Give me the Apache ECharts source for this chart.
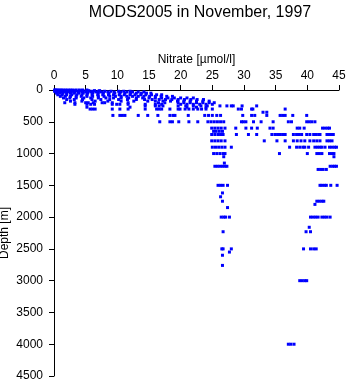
<!DOCTYPE html>
<html>
<head>
<meta charset="utf-8">
<script src="https://cdn.jsdelivr.net/npm/echarts@6/dist/echarts.min.js"></script>
<style>
html,body{margin:0;padding:0;background:#fff;}
#chart{width:348px;height:384px;}
</style>
</head>
<body>
<div id="chart"></div>
<script>
// Nitrate ticks and depth ticks
const nitrateTicks = [0, 5, 10, 15, 20, 25, 30, 35, 40, 45];
const depthTicks = [0, 500, 1000, 1500, 2000, 2500, 3000, 3500, 4000, 4500];

// [depth (m), [nitrate values (µmol/l)]]
const surfaceLayer = [
  [0,   [0.1,0.3,0.5,0.8,1.1,1.4,1.8,2.2,2.6,3.0,3.5,4.0,4.5,5.2]],
  [10,  [0.2,0.6,1.0,1.4,1.9,2.4,2.9,3.4,4.0,4.6,5.5,6.4,7.2]],
  [20,  [0.1,0.5,0.9,1.3,1.7,2.2,2.8,3.3,3.9,4.5,5.1,6.0,7.0,8.0,9.0,10.2,11.0,12.0]],
  [30,  [0.3,0.7,1.2,1.6,2.1,2.7,3.2,3.8,4.4,5.0,5.8,6.6,7.5,8.5,9.5,10.5,11.5,12.4,13.3,14.2]],
  [50,  [0.4,0.9,1.4,2.0,2.6,3.2,3.9,4.6,5.3,6.1,7.0,7.8,8.7,9.6,10.4,11.2,12.1,13.0,13.8,14.6,15.3]],
  [75,  [0.6,1.3,2.0,2.8,3.6,4.4,5.2,6.0,6.9,7.7,8.6,9.4,10.3,11.1,12.0,12.8,13.7,14.5,15.4,16.2,17.0]],
  [100, [1.0,1.8,2.6,3.5,4.3,5.2,6.1,7.0,7.9,8.8,9.7,10.6,11.5,12.4,13.3,14.2,15.1,16.0,16.9,17.8,18.7]],
  [125, [1.5,2.5,3.5,4.7,5.8,7.0,8.2,9.4,10.6,11.8,13.0,14.0,15.0,16.0,17.0,18.0,19.0,20.0,21.0,22.0]],
  [150, [2.0,3.2,4.5,6.0,7.4,8.8,10.2,11.6,13.0,14.3,15.5,16.6,17.6,18.6,19.6,20.6,21.6,22.6,23.6]],
  [175, [2.6,4.4,6.5,8.5,10.6,12.6,14.8,16.0,17.2,18.4,19.5,20.5,21.5,22.5,23.5,24.5]],
  [200, [1.7,3.3,5.0,5.4,6.2,7.6,8.0,9.2,11.7,16.5,17.5,19.6,20.5,21.5,22.5,23.5,24.5,25.3]],
  [225, [3.3,5.2,5.8,6.4,9.2,9.9,10.4,11.7,14.4,16.0,17.0,20.0,21.0,22.0,23.0,24.0,25.0]],
  [250, [14.4,16.0,16.6,17.2,19.6,20.8,22.0,23.2,24.2,26.2,27.3,28.0,28.3,29.7,32.0]],
  [270, [5.2,12.0,21.0,22.5,24.0]]
];

const intermediateLayer = [
  [300,  [5.7,6.1,6.5,9.2,10.4,11.7,14.4,16.2,16.6,17.0,18.3,19.6,19.9,20.7,21.3,22.0,22.7,23.3,24.0,25.0,29.1,29.6,31.2,31.4,36.5]],
  [350,  [33.0,33.6]],
  [400,  [9.3,10.4,10.8,11.2,13.3,14.8,16.4,18.3,18.8,19.1,21.2,23.8,24.4,25.0,25.7,26.3,29.8,31.2,31.7,33.6,35.7,36.1,36.5,37.7,39.9]],
  [500,  [16.7,18.3,18.7,19.7,21.3,22.7,24.3,24.8,25.3,25.8,26.3,26.8,29.6,29.9,30.3,31.5,32.7,34.6,37.0,37.5,39.9,40.3,40.7,41.2]],
  [600,  [24.9,25.4,25.9,26.4,27.0,28.7,30.3,31.2,32.1,34.1,34.6,38.4,38.8,39.5,42.4,42.8,43.2,43.5]],
  [650,  [25.2,25.6,26.1,26.6]],
  [700,  [24.9,25.4,25.9,26.3,26.7,28.8,30.7,32.0,34.4,34.9,35.3,35.7,36.1,36.5,37.8,38.3,38.7,39.1,39.9,40.4,41.0,41.4,41.8,42.0,43.1,43.5,43.8,44.1]],
  [800,  [24.9,25.4,25.9,26.4,27.0,33.2,35.2,36.5,37.8,38.4,39.0,39.6,40.4,41.0,41.5,42.0,43.1,43.5,43.9]],
  [900,  [25.0,25.5,26.0,26.5,27.0,28.0,37.2,38.3,38.8,39.3,39.6,40.2,41.2,41.6,42.0,42.3,42.8,43.5,43.9,44.3,44.6]],
  [1000, [25.2,25.7,26.2,26.7,27.0,35.6,40.0,41.5,41.9,42.3,43.5,43.9,44.2]],
  [1050, [26.8,44.2]],
  [1150, [26.9]],
  [1200, [25.4,25.8,26.2,26.6,27.0,27.3,43.6,44.0,44.3,44.6]],
  [1250, [41.7,42.1,42.5,43.0]]
];

const deepLayer = [
  [1500, [25.9,26.3,26.7,27.4,42.0,42.3,42.7,43.0,43.7,44.7]],
  [1620, [26.6]],
  [1680, [26.3]],
  [1750, [26.6,41.5,41.9,42.3,42.6]],
  [1800, [41.2]],
  [1850, [27.4]],
  [2000, [26.4,26.8,27.1,27.7,40.5,40.9,41.3,41.7,42.3,42.7,43.1,43.6]],
  [2160, [40.3]],
  [2230, [26.7,39.8,40.5]],
  [2500, [26.5,26.7,28.0,39.4,40.5,41.0,41.4]],
  [2550, [27.7]],
  [2600, [26.6]],
  [2760, [26.6]],
  [3000, [38.8,39.2,39.6,39.9]],
  [4000, [37.0,37.4,37.9]]
];

const points = [];
[surfaceLayer, intermediateLayer, deepLayer].forEach(layer => {
  layer.forEach(([depth, values]) => {
    values.forEach(v => points.push([v, depth]));
  });
});

const chart = echarts.init(document.getElementById('chart'), null, {renderer: 'canvas'});
const font = 'Liberation Sans, Arial, Helvetica, sans-serif';
chart.setOption({
  animation: false,
  backgroundColor: '#ffffff',
  title: {
    text: 'MODS2005 in November, 1997',
    left: 195,
    textAlign: 'center',
    top: 0,
    textStyle: {fontFamily: font, fontSize: 16, fontWeight: 'normal', color: '#000'}
  },
  grid: {left: 54, top: 90, right: 9, bottom: 8, containLabel: false, outerBoundsMode: 'none'},
  xAxis: {
    type: 'value',
    position: 'top',
    min: nitrateTicks[0],
    max: nitrateTicks[nitrateTicks.length - 1],
    interval: 5,
    name: 'Nitrate [µmol/l]',
    nameLocation: 'middle',
    nameGap: 24,
    nameMoveOverlap: false,
    nameTextStyle: {fontFamily: font, fontSize: 12, color: '#000'},
    axisLine: {onZero: false, lineStyle: {color: '#000', width: 1}},
    axisTick: {show: true, length: 5, lineStyle: {color: '#000'}},
    axisLabel: {fontFamily: font, fontSize: 12, color: '#000', margin: 8, formatter: v => String(v)},
    splitLine: {show: false}
  },
  yAxis: {
    type: 'value',
    inverse: true,
    min: depthTicks[0],
    max: depthTicks[depthTicks.length - 1],
    interval: 500,
    name: 'Depth [m]',
    nameLocation: 'middle',
    nameGap: 43,
    nameMoveOverlap: false,
    nameTextStyle: {fontFamily: font, fontSize: 12, color: '#000'},
    axisLine: {onZero: false, lineStyle: {color: '#000', width: 1}},
    axisTick: {show: true, length: 5, lineStyle: {color: '#000'}},
    axisLabel: {fontFamily: font, fontSize: 12, color: '#000', margin: 11, formatter: v => String(v)},
    splitLine: {show: false}
  },
  series: [{
    type: 'scatter',
    data: points,
    symbol: 'rect',
    symbolSize: [3, 3],
    itemStyle: {color: '#0000ff', opacity: 1},
    silent: true
  }]
});
</script>
</body>
</html>
